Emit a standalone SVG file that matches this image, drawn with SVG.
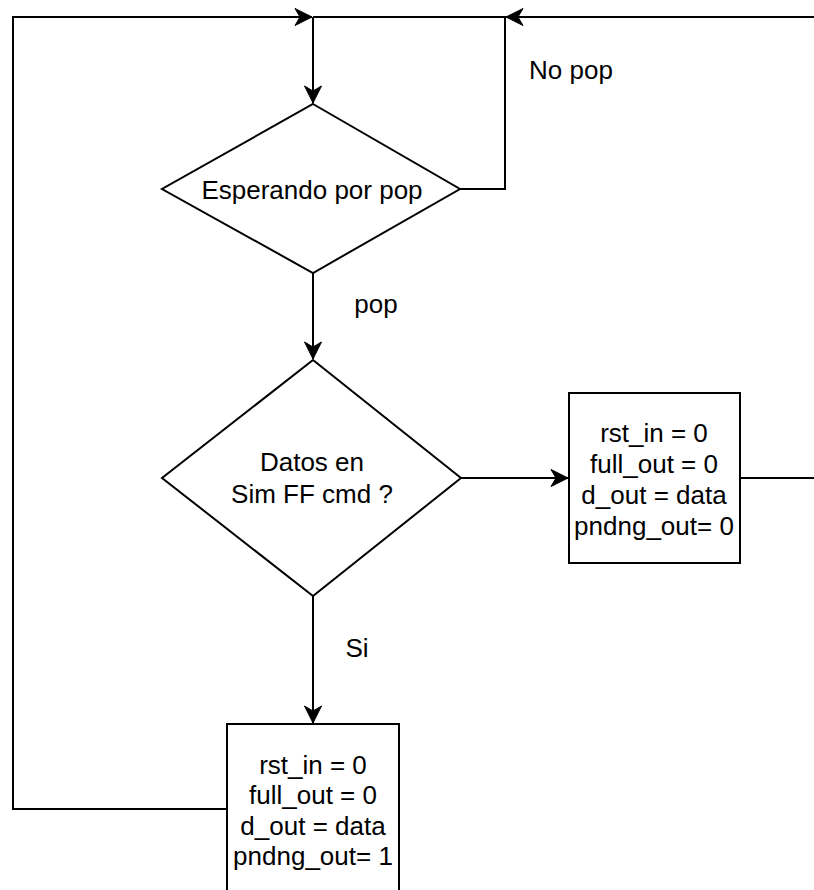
<svg xmlns="http://www.w3.org/2000/svg" width="814" height="890" viewBox="0 0 814 890">
  <style>
    .shape { fill: #ffffff; stroke: #000000; stroke-width: 2; }
    .edge { fill: none; stroke: #000000; stroke-width: 2; }
    .lbl { font-family: "Liberation Sans", Arial, sans-serif; font-size: 26px; fill: #000000; }
    .mid { text-anchor: middle; }
  </style>
  <defs>
    <marker id="arrow" markerUnits="userSpaceOnUse" markerWidth="20" markerHeight="20" viewBox="-18 -10 20 20" refX="0" refY="0" orient="auto">
      <path d="M0,0 L-17,-8.5 L-12,0 L-17,8.5 Z" fill="#000000" stroke="#000000" stroke-width="1"/>
    </marker>
  </defs>
  <rect x="0" y="0" width="814" height="890" fill="#ffffff"/>

  <!-- connectors -->
  <g id="edges">
    <!-- return loop from the lower action box -->
    <path class="edge" d="M227,809 H13 V17 H312" marker-end="url(#arrow)"/>
    <!-- entry into the first decision -->
    <path class="edge" d="M313,17 V103" marker-end="url(#arrow)"/>
    <!-- "No pop" loop -->
    <path class="edge" d="M460,189 H505 V17 H313"/>
    <!-- return loop from the right action box -->
    <path class="edge" d="M740,478 H814"/>
    <path class="edge" d="M814,17 H506" marker-end="url(#arrow)"/>
    <!-- pop -->
    <path class="edge" d="M313,273 V359" marker-end="url(#arrow)"/>
    <!-- right branch -->
    <path class="edge" d="M461,478 H568" marker-end="url(#arrow)"/>
    <!-- Si -->
    <path class="edge" d="M313,596 V723" marker-end="url(#arrow)"/>
    <text class="lbl" x="529" y="79">No pop</text>
    <text class="lbl mid" x="376" y="313">pop</text>
    <text class="lbl mid" x="357" y="657">Si</text>
  </g>

  <g id="wait-pop">
    <polygon class="shape" points="313,104 460,189 313,273 162,189"/>
    <text class="lbl mid" x="312" y="199">Esperando por pop</text>
  </g>

  <g id="check-data">
    <polygon class="shape" points="313,360 461,478 313,596 162,478"/>
    <text class="lbl mid" x="312" y="471">Datos en</text>
    <text class="lbl mid" x="312" y="503">Sim FF cmd ?</text>
  </g>

  <g id="action-right">
    <rect class="shape" x="569" y="393" width="171" height="170"/>
    <text class="lbl mid" x="654" y="442">rst_in = 0</text>
    <text class="lbl mid" x="654" y="473">full_out = 0</text>
    <text class="lbl mid" x="654" y="504">d_out = data</text>
    <text class="lbl mid" x="654" y="535">pndng_out= 0</text>
  </g>

  <g id="action-bottom">
    <rect class="shape" x="227" y="724" width="172" height="200"/>
    <text class="lbl mid" x="313" y="774">rst_in = 0</text>
    <text class="lbl mid" x="313" y="804">full_out = 0</text>
    <text class="lbl mid" x="313" y="835">d_out = data</text>
    <text class="lbl mid" x="313" y="865">pndng_out= 1</text>
  </g>
</svg>
